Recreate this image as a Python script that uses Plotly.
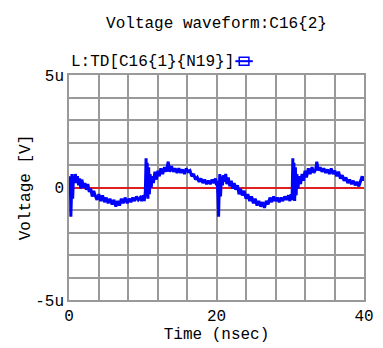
import plotly.graph_objects as go

# ---- data (values in microvolts) ----
time_ns = [
    0.00, 0.08, 0.18, 0.25, 0.33, 0.40, 0.50, 0.60, 0.75, 0.85, 1.00, 1.15, 1.30, 1.45, 1.60, 1.75,
    1.95, 2.15, 2.35, 2.55, 2.75, 2.95, 3.15, 3.35, 3.55, 3.80, 4.05, 4.30, 4.55, 4.80, 5.05, 5.30,
    5.55, 5.85, 6.10, 6.35, 6.60, 6.85, 7.10, 7.35, 7.60, 7.90, 8.15, 8.40, 8.65, 8.90, 9.15, 9.40,
    9.65, 9.85, 10.05, 10.20, 10.35, 10.45, 10.52, 10.60, 10.70, 10.80, 10.90, 11.00, 11.15, 11.30,
    11.45, 11.65, 11.85, 12.05, 12.25, 12.45, 12.70, 12.95, 13.20, 13.45, 13.65, 13.90, 14.15, 14.40,
    14.65, 14.90, 15.15, 15.40, 15.65, 15.90, 16.15, 16.40, 16.65, 16.90, 17.15, 17.40, 17.65, 17.90,
    18.15, 18.40, 18.65, 18.90, 19.15, 19.40, 19.65, 19.85, 20.00,
    20.10, 20.20, 20.28, 20.36, 20.45, 20.55, 20.65, 20.80, 20.95, 21.10, 21.25, 21.40, 21.60, 21.80,
    22.00, 22.20, 22.40, 22.60, 22.85, 23.05, 23.25, 23.50, 23.75, 24.00, 24.25, 24.50, 24.75, 25.00,
    25.25, 25.50, 25.75, 26.00, 26.25, 26.50, 26.75, 27.00, 27.25, 27.50, 27.75, 28.00, 28.25, 28.50,
    28.75, 29.00, 29.25, 29.50, 29.75, 29.95, 30.10, 30.25, 30.35, 30.42, 30.50, 30.60, 30.70, 30.80,
    30.90, 31.05, 31.20, 31.40, 31.60, 31.80, 32.00, 32.20, 32.45, 32.70, 32.95, 33.20, 33.45, 33.60,
    33.80, 34.05, 34.30, 34.55, 34.80, 35.05, 35.30, 35.55, 35.80, 36.05, 36.30, 36.55, 36.80, 37.05,
    37.30, 37.55, 37.80, 38.05, 38.30, 38.55, 38.80, 39.05, 39.30, 39.55, 39.75, 39.90, 40.00,
]
voltage_u = [
    0.5, -0.3, 0.4, -1.3, -0.4, 0.6, -0.5, 0.5, 0.2, 0.6, 0.2, 0.5, 0.1, 0.4, -0.05, 0.35,
    0.0, 0.2, -0.1, 0.15, -0.2, -0.05, -0.4, -0.15, -0.35, -0.55, -0.3, -0.6, -0.35, -0.65, -0.45, -0.7,
    -0.5, -0.75, -0.55, -0.85, -0.6, -0.8, -0.5, -0.7, -0.45, -0.7, -0.5, -0.65, -0.45, -0.6, -0.4, -0.55,
    -0.45, -0.6, -0.35, -0.6, -0.2, 1.3, -0.1, 1.1, -0.5, 0.9, -0.3, 0.6, 0.0, 0.5,
    0.2, 0.7, 0.35, 0.75, 0.5, 0.85, 0.6, 0.9, 0.7, 1.15, 0.7, 0.95, 0.7, 0.85,
    0.65, 0.85, 0.65, 0.8, 0.6, 0.85, 0.7, 0.75, 0.5, 0.6, 0.35, 0.45, 0.25, 0.4,
    0.2, 0.35, 0.15, 0.3, 0.15, 0.35, 0.2, 0.4, 0.1,
    0.3, -0.4, -1.3, -0.2, 0.6, -0.4, 0.5, 0.1, 0.55, 0.25, 0.6, 0.15, 0.45, 0.05,
    0.3, -0.05, 0.2, -0.1, 0.1, -0.3, -0.05, -0.35, -0.15, -0.5, -0.3, -0.6, -0.4, -0.7,
    -0.5, -0.8, -0.6, -0.85, -0.65, -0.9, -0.6, -0.75, -0.45, -0.65, -0.4, -0.6, -0.45, -0.65,
    -0.45, -0.6, -0.4, -0.55, -0.35, -0.6, -0.3, -0.55, 1.3, -0.2, 1.1, -0.6, 0.9, -0.35,
    0.6, -0.05, 0.5, 0.15, 0.6, 0.3, 0.75, 0.45, 0.85, 0.6, 0.9, 0.65, 0.8, 1.15,
    0.75, 0.9, 0.7, 0.85, 0.65, 0.8, 0.6, 0.85, 0.6, 0.75, 0.5, 0.7, 0.4, 0.55,
    0.3, 0.45, 0.2, 0.35, 0.15, 0.3, 0.1, 0.25, 0.05, 0.3, 0.5, 0.3, 0.5,
]

x_tickvals = [0, 4, 8, 12, 16, 20, 24, 28, 32, 36, 40]
x_ticktext = ["0", "", "", "", "", "20", "", "", "", "", "40"]
y_tickvals = [-5, -4, -3, -2, -1, 0, 1, 2, 3, 4, 5]
y_ticktext = ["-5u", "", "", "", "", "0", "", "", "", "", "5u"]

title_text = "Voltage waveform:C16{2}"
legend_text = "L:TD[C16{1}{N19}]"
x_title = "Time (nsec)"
y_title = "Voltage [V]"

FONT = "Liberation Mono"
GRID = "#999999"

fig = go.Figure()
fig.add_trace(go.Scatter(
    x=time_ns, y=voltage_u, mode="lines",
    line=dict(color="#0000ff", width=3),
    name=legend_text, showlegend=False,
))

fig.update_layout(
    width=383, height=348,
    margin=dict(l=69, r=9, t=75, b=45),
    paper_bgcolor="white", plot_bgcolor="white",
    font=dict(family=FONT, size=16, color="black"),
    title=dict(text=title_text, x=0.5, xref="paper", xanchor="center",
               y=1 - 22 / 348, yref="container", yanchor="middle",
               font=dict(family=FONT, size=16, color="black")),
    xaxis=dict(range=[0, 40], tickvals=x_tickvals, ticktext=x_ticktext,
               showgrid=True, gridcolor=GRID, gridwidth=1.5,
               showline=True, linecolor=GRID, linewidth=1.5, mirror=True,
               zeroline=False, ticks="",
               title=dict(text=x_title, standoff=2, font=dict(family=FONT, size=16))),
    yaxis=dict(range=[-5, 5], tickvals=y_tickvals, ticktext=y_ticktext,
               showgrid=True, gridcolor=GRID, gridwidth=1.5,
               showline=True, linecolor=GRID, linewidth=1.5, mirror=True,
               zeroline=True, zerolinecolor="#e02020", zerolinewidth=1.5,
               ticks="",
               title=dict(text=y_title, standoff=1, font=dict(family=FONT, size=16))),
    annotations=[dict(text=legend_text, xref="paper", yref="paper",
                      x=0.0, y=(303 - 62) / 228, xanchor="left", yanchor="middle",
                      showarrow=False, font=dict(family=FONT, size=16, color="black"))],
    shapes=[
        dict(type="line", xref="paper", yref="paper",
             x0=(241 - 69) / 305, x1=(259 - 69) / 305,
             y0=(303 - 61) / 228, y1=(303 - 61) / 228,
             line=dict(color="#0000ff", width=2)),
        dict(type="rect", xref="paper", yref="paper",
             x0=(245 - 69) / 305, x1=(255 - 69) / 305,
             y0=(303 - 65) / 228, y1=(303 - 57) / 228,
             line=dict(color="#0000ff", width=1.5)),
    ],
)

fig.write_html("out.html")
